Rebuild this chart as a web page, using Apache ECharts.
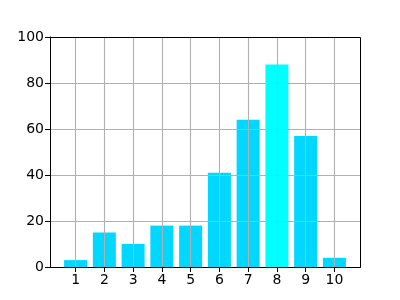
<!DOCTYPE html>
<html><head><meta charset="utf-8">
<script src="https://cdn.jsdelivr.net/npm/echarts@6/dist/echarts.min.js"></script>
<style>html,body{margin:0;padding:0;background:#fff}#c{width:400px;height:300px}</style>
</head><body><div id="c"></div>
<script>
var categories = [1,2,3,4,5,6,7,8,9,10];
var values = [3,15,10,18,18,41,64,88,57,4];
var highlightIndex = 7;
var yTicks = [0,20,40,60,80,100];

var chart = echarts.init(document.getElementById('c'), null, {renderer:'canvas'});
var font = 'DejaVu Sans';
chart.setOption({
  animation:false,
  grid:{left:50, right:40, top:37, bottom:33, containLabel:false},
  xAxis:{type:'value', min:0.11, max:10.89, interval:1, z:10,
    axisLine:{show:true, onZero:false, lineStyle:{color:'#000', width:1}},
    axisTick:{show:true, inside:false, length:5, lineStyle:{color:'#000'},
      customValues: categories},
    axisLabel:{color:'#000', fontFamily:font, fontSize:14, margin:6,
      customValues: categories, formatter:function(v){return String(v);}},
    splitLine:{show:true, lineStyle:{color:'#b0b0b0', width:1.1}}
  },
  yAxis:{type:'value', min:0, max:100, interval:20, z:10,
    axisLine:{show:true, lineStyle:{color:'#000', width:1}},
    axisTick:{show:true, inside:false, length:5, lineStyle:{color:'#000'}},
    axisLabel:{color:'#000', fontFamily:font, fontSize:14, margin:6},
    splitLine:{show:true, lineStyle:{color:'#b0b0b0', width:1.1}}
  },
  graphic:[{type:'rect', z:100, shape:{x:50.5,y:37.5,width:310,height:230},
    style:{fill:null, stroke:'#000', lineWidth:1}}],
  series:[{type:'bar', barWidth:23, z:2,
    data: categories.map(function(c,i){
      return {value:[c, values[i]], itemStyle:{color: i===highlightIndex ? '#00ffff' : '#00d8ff'}};
    })
  }]
});
</script></body></html>
